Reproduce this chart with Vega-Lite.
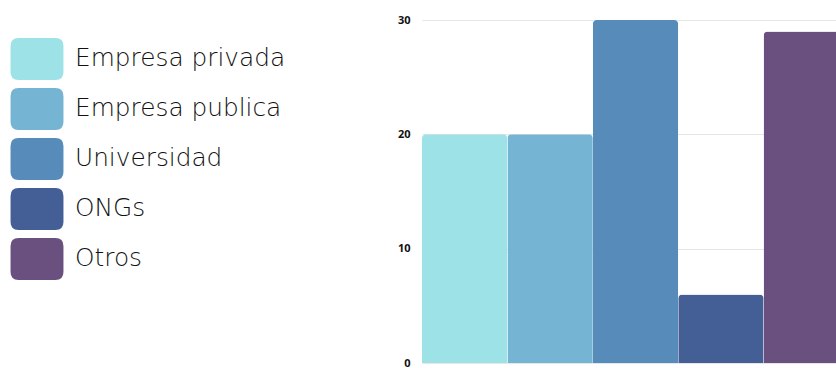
{
  "$schema": "https://vega.github.io/schema/vega-lite/v6.json",
  "autosize": {"type": "none"},
  "width": 427,
  "height": 343,
  "padding": {"left": 422, "top": 20, "right": 0, "bottom": 5},
  "background": "white",
  "config": {"view": {"stroke": null}},
  "data": {
    "values": [
      {"categoria": "Empresa privada", "valor": 20, "orden": 1},
      {"categoria": "Empresa publica", "valor": 20, "orden": 2},
      {"categoria": "Universidad", "valor": 30, "orden": 3},
      {"categoria": "ONGs", "valor": 6, "orden": 4},
      {"categoria": "Otros", "valor": 29, "orden": 5}
    ]
  },
  "mark": {"type": "bar", "cornerRadiusTopLeft": 4, "cornerRadiusTopRight": 4},
  "encoding": {
    "x": {
      "field": "categoria",
      "type": "nominal",
      "sort": {"field": "orden"},
      "axis": null,
      "scale": {"paddingInner": 0, "paddingOuter": 0}
    },
    "y": {
      "field": "valor",
      "type": "quantitative",
      "scale": {"domain": [0, 30], "nice": false},
      "axis": {
        "title": null,
        "values": [0, 10, 20, 30],
        "domain": false,
        "ticks": false,
        "labelFont": "Open Sans",
        "labelFontWeight": "bold",
        "labelFontSize": 11,
        "labelColor": "#111111",
        "labelPadding": 12,
        "gridColor": "#e6e6e6",
        "gridWidth": 1
      }
    },
    "color": {
      "field": "categoria",
      "type": "nominal",
      "sort": ["Empresa privada", "Empresa publica", "Universidad", "ONGs", "Otros"],
      "scale": {
        "domain": ["Empresa privada", "Empresa publica", "Universidad", "ONGs", "Otros"],
        "range": ["#9de2e6", "#75b4d2", "#568bba", "#445f95", "#6a507e"]
      },
      "legend": {
        "title": null,
        "orient": "none",
        "legendX": -406,
        "legendY": 18,
        "symbolType": "M -1.26,-0.62 Q -1.26,-1 -0.88,-1 H 0.88 Q 1.26,-1 1.26,-0.62 V 0.62 Q 1.26,1 0.88,1 H -0.88 Q -1.26,1 -1.26,0.62 Z",
        "symbolSize": 1764,
        "symbolStrokeWidth": 0,
        "symbolOpacity": 1,
        "rowPadding": 8,
        "labelOffset": 17,
        "labelFont": "DejaVu Sans",
        "labelFontSize": 24.8,
        "labelFontWeight": 300,
        "labelColor": "#111111",
        "labelLimit": 400
      }
    }
  }
}
